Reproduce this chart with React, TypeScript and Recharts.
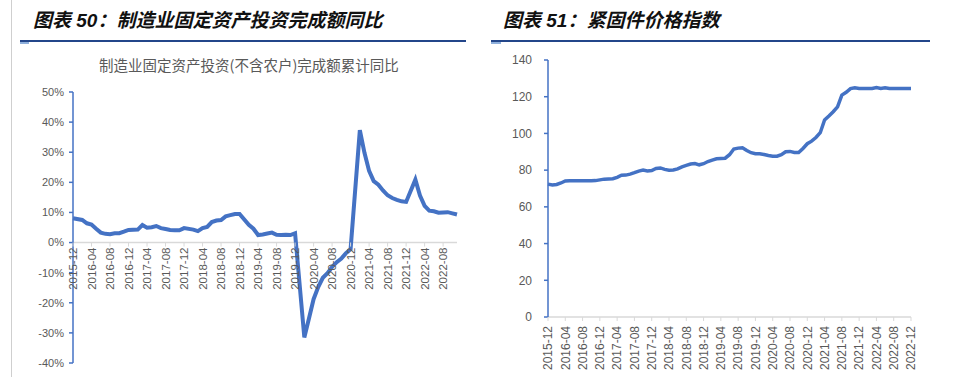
import { LineChart, Line, XAxis, YAxis, ReferenceLine } from 'recharts';

// month labels like 2015-12, 2016-01 ...
const monthLabels = (year: number, month: number, count: number) => {
  const out: string[] = [];
  let y = year;
  let m = month;
  for (let i = 0; i < count; i++) {
    out.push(`${y}-${String(m).padStart(2, '0')}`);
    m += 1;
    if (m > 12) { m = 1; y += 1; }
  }
  return out;
};

// 图表50: 制造业固定资产投资(不含农户)完成额累计同比, % (January not published)
const investMonths = monthLabels(2015, 12, 84);
const invest2015 = [8.1];
const invest2016 = [null, 7.5, 6.4, 6.0, 4.6, 3.3, 2.9, 2.8, 3.1, 3.1, 3.6, 4.2];
const invest2017 = [null, 4.3, 5.8, 4.9, 5.1, 5.5, 4.8, 4.5, 4.2, 4.1, 4.1, 4.8];
const invest2018 = [null, 4.3, 3.8, 4.8, 5.2, 6.8, 7.3, 7.5, 8.7, 9.1, 9.5, 9.5];
const invest2019 = [null, 5.9, 4.6, 2.5, 2.7, 3.0, 3.3, 2.6, 2.5, 2.6, 2.5, 3.1];
const invest2020 = [null, -31.5, -25.2, -18.8, -14.8, -11.7, -10.2, -8.1, -6.5, -5.3, -3.5, -2.2];
const invest2021 = [null, 37.3, 29.8, 23.8, 20.4, 19.2, 17.3, 15.7, 14.8, 14.2, 13.7, 13.5];
const invest2022 = [null, 20.9, 15.6, 12.2, 10.6, 10.4, 9.9, 10.0, 10.1, 9.7, 9.3];
const investYoY = [
  ...invest2015, ...invest2016, ...invest2017, ...invest2018,
  ...invest2019, ...invest2020, ...invest2021, ...invest2022,
];
const investTicks = [50, 40, 30, 20, 10, 0, -10, -20, -30, -40];

// 图表51: 紧固件价格指数
const fastenerMonths = monthLabels(2015, 12, 85);
const fastener2015 = [72.4];
const fastener2016 = [71.9, 72.2, 73.0, 74.1, 74.2, 74.2, 74.2, 74.2, 74.2, 74.2, 74.3, 74.7];
const fastener2017 = [75.1, 75.2, 75.3, 76.1, 77.2, 77.3, 77.8, 78.6, 79.5, 80.0, 79.6, 79.8];
const fastener2018 = [80.9, 81.2, 80.4, 80.0, 80.1, 80.7, 81.8, 82.6, 83.3, 83.6, 82.9, 83.5];
const fastener2019 = [84.7, 85.5, 86.2, 86.4, 86.5, 88.4, 91.5, 92.0, 92.2, 90.7, 89.5, 88.9];
const fastener2020 = [88.9, 88.5, 88.0, 87.6, 87.6, 88.4, 90.0, 90.2, 89.6, 89.6, 91.8, 94.4];
const fastener2021 = [95.8, 97.8, 100.4, 107.3, 109.5, 111.8, 114.5, 120.9, 122.4, 124.4, 124.9, 124.5];
const fastener2022 = [124.5, 124.5, 124.5, 125.0, 124.5, 124.9, 124.5, 124.5, 124.5, 124.5, 124.5, 124.5];
const fastenerIndex = [
  ...fastener2015, ...fastener2016, ...fastener2017, ...fastener2018,
  ...fastener2019, ...fastener2020, ...fastener2021, ...fastener2022,
];
const fastenerTicks = [0, 20, 40, 60, 80, 100, 120, 140];

const investData = investMonths.map((month, i) => ({ month, value: investYoY[i] }));
const fastenerData = fastenerMonths.map((month, i) => ({ month, value: fastenerIndex[i] }));

const BLUE = '#4472C4';
const GREY_TEXT = '#595959';
const AXIS_GREY = '#d9d9d9';
const FONT = '"Liberation Sans", Arial, "Noto Sans CJK SC", sans-serif';

// left chart layout
const L_W = 470;
const L_H = 377;
const L_TOP = 92;
const L_BOTTOM = 363;
const L_ZERO = L_TOP + (50 / 90) * (L_BOTTOM - L_TOP);

// right chart layout (chart box starts at x=480)
const R_W = 450;
const R_H = 377;
const R_TOP = 60;
const R_BOTTOM = 317;

const X_AXIS_H = 20;

const makeDateTick = (baseY: number, fontSize: number, gap: number) => (props: any) => {
  const { x, payload } = props;
  return (
    <g transform={`translate(${x},${baseY})`}>
      <line x1={0} y1={0} x2={0} y2={4} stroke={AXIS_GREY} strokeWidth={1} />
      <text
        transform="rotate(-90)"
        x={-gap}
        y={0}
        dy={fontSize * 0.36}
        textAnchor="end"
        fontSize={fontSize}
        fill={GREY_TEXT}
        fontFamily={FONT}
      >
        {payload.value}
      </text>
    </g>
  );
};

const InvestTick = makeDateTick(L_ZERO, 11.5, 5);
const FastenerTick = makeDateTick(R_BOTTOM, 12, 9);

const heading = {
  position: 'absolute' as const,
  top: 8,
  fontSize: 19,
  lineHeight: '26px',
  fontWeight: 'bold' as const,
  fontStyle: 'italic' as const,
  fontFamily: FONT,
  color: '#111',
  whiteSpace: 'nowrap' as const,
};

export default function App() {
  return (
    <div style={{ position: 'absolute', left: 0, top: 0, width: 958, height: 377, background: '#fff', overflow: 'hidden' }}>
      {/* page edge */}
      <div style={{ position: 'absolute', left: 11, top: 0, width: 1, height: 377, background: '#cfcfcf' }} />

      {/* headings */}
      <div style={{ ...heading, left: 33 }}>图表 50：制造业固定资产投资完成额同比</div>
      <div style={{ ...heading, left: 503 }}>图表 51：紧固件价格指数</div>
      <div style={{ position: 'absolute', left: 20, top: 40, width: 446, height: 2, background: '#23468a' }} />
      <div style={{ position: 'absolute', left: 20, top: 42, width: 9, height: 2, background: '#8fb0dc' }} />
      <div style={{ position: 'absolute', left: 491, top: 40, width: 439, height: 2, background: '#23468a' }} />
      <div style={{ position: 'absolute', left: 491, top: 42, width: 10, height: 2, background: '#8fb0dc' }} />

      {/* inner title of left chart */}
      <div
        style={{
          position: 'absolute', left: 99, top: 55, fontSize: 14.5, lineHeight: '20px',
          color: GREY_TEXT, fontFamily: '"Noto Sans CJK SC", sans-serif', whiteSpace: 'nowrap',
        }}
      >
        制造业固定资产投资(不含农户)完成额累计同比
      </div>

      {/* 图表50 */}
      <div style={{ position: 'absolute', left: 0, top: 0 }}>
        <LineChart
          width={L_W}
          height={L_H}
          data={investData}
          margin={{ top: L_TOP, right: 13, bottom: L_H - L_BOTTOM - X_AXIS_H, left: 0 }}
          style={{ fontFamily: FONT }}
        >
          <XAxis
            dataKey="month"
            height={X_AXIS_H}
            interval={3}
            axisLine={false}
            tickLine={false}
            tick={InvestTick}
          />
          <YAxis
            width={73}
            domain={[-40, 50]}
            ticks={investTicks}
            interval={0}
            tickFormatter={(v) => `${v}%`}
            axisLine={{ stroke: BLUE, strokeWidth: 1.5 }}
            tickLine={{ stroke: BLUE, strokeWidth: 1.5 }}
            tickSize={4}
            tickMargin={5}
            tick={{ fontSize: 11, fill: GREY_TEXT }}
          />
          <ReferenceLine y={0} stroke={AXIS_GREY} strokeWidth={1.5} />
          <Line
            type="linear"
            dataKey="value"
            stroke={BLUE}
            strokeWidth={4}
            dot={false}
            connectNulls
            isAnimationActive={false}
          />
        </LineChart>
      </div>

      {/* 图表51 */}
      <div style={{ position: 'absolute', left: 480, top: 0 }}>
        <LineChart
          width={R_W}
          height={R_H}
          data={fastenerData}
          margin={{ top: R_TOP, right: 19, bottom: R_H - R_BOTTOM - X_AXIS_H, left: 0 }}
          style={{ fontFamily: FONT }}
        >
          <XAxis
            dataKey="month"
            height={X_AXIS_H}
            interval={3}
            axisLine={{ stroke: AXIS_GREY, strokeWidth: 1.5 }}
            tickLine={false}
            tick={FastenerTick}
          />
          <YAxis
            width={68}
            domain={[0, 140]}
            ticks={fastenerTicks}
            interval={0}
            axisLine={{ stroke: BLUE, strokeWidth: 1.5 }}
            tickLine={{ stroke: BLUE, strokeWidth: 1.5 }}
            tickSize={4}
            tickMargin={12}
            tick={{ fontSize: 12, fill: GREY_TEXT }}
          />
          <Line
            type="linear"
            dataKey="value"
            stroke={BLUE}
            strokeWidth={3.5}
            dot={false}
            isAnimationActive={false}
          />
        </LineChart>
      </div>
    </div>
  );
}
